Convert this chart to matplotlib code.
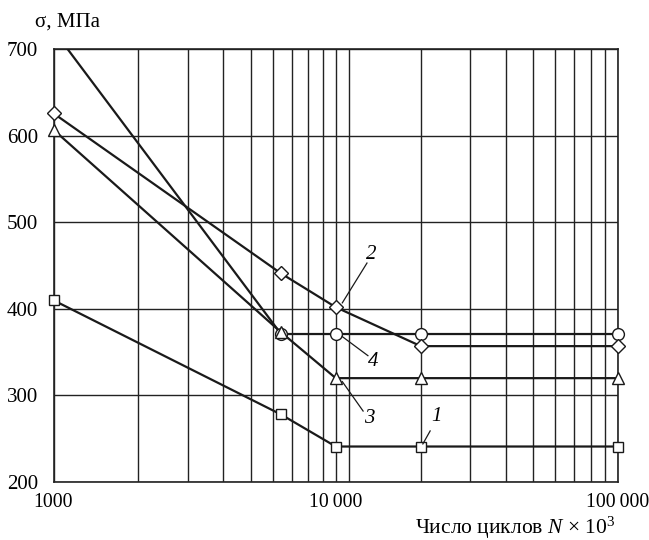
import matplotlib
matplotlib.use("Agg")
import matplotlib.pyplot as plt
from matplotlib.ticker import FixedLocator, NullFormatter

plt.rcParams['font.family'] = ['Liberation Serif', 'DejaVu Serif']
plt.rcParams['mathtext.fontset'] = 'custom'
plt.rcParams['mathtext.rm'] = 'Liberation Serif'
plt.rcParams['mathtext.it'] = 'Liberation Serif:italic'

# ---- data ----
x1 = [1000, 6400, 10000, 20000, 100000]
s1 = [410, 278, 241, 241, 241]          # curve 1, squares
x2 = [1000, 6400, 10000, 20000, 100000]
s2 = [626, 441, 402, 357, 357]          # curve 2, diamonds
x3 = [1000, 6400, 10000, 20000, 100000]
s3 = [607, 373, 320, 320, 320]          # curve 3, triangles
x4 = [1000, 6400, 10000, 20000, 100000]
s4 = [722, 371, 371, 371, 371]          # curve 4, circles

x_major = [1000, 10000, 100000]
x_major_labels = ['1000', '10\u2009000', '100\u2009000']
x_grid = [2000, 3000, 4000, 5000, 6000, 7000, 8000, 9000, 10000, 11100,
          20000, 30000, 40000, 50000, 60000, 70000, 80000, 90000]
y_ticks = [200, 300, 400, 500, 600, 700]

curve_labels = ['1', '2', '3', '4']
label_text_pos = [(22800, 276), (13400, 463), (13100, 273), (13550, 339)]
label_leader_start = [(21600, 259), (12900, 453), (12500, 282), (13000, 346)]
label_leader_end = [(20350, 244), (10550, 407), (10550, 316), (10550, 368)]

fig = plt.figure(figsize=(6.49, 5.40), dpi=100)
ax = fig.add_axes([53.5 / 649, (540 - 482) / 540, (618 - 53.5) / 649, (482 - 49.3) / 540])
ax.set_xscale('log')
ax.set_xlim(1000, 100000)
ax.set_ylim(200, 700)

ax.xaxis.set_major_locator(FixedLocator(x_major))
ax.set_xticklabels(x_major_labels)
ax.xaxis.set_minor_locator(FixedLocator(x_grid))
ax.xaxis.set_minor_formatter(NullFormatter())
ax.set_yticks(y_ticks)
ax.tick_params(axis='both', which='both', length=0, labelsize=15)
ax.tick_params(axis='x', pad=8, labelsize=14.2)
ax.tick_params(axis='y', pad=11)
ax.grid(True, which='both', axis='x', color='#222222', lw=1.0)
ax.grid(True, which='major', axis='y', color='#222222', lw=1.0)
for sp in ax.spines.values():
    sp.set_color('#222222')
    sp.set_linewidth(1.2)

series = [(x4, s4, 'o', 8.5), (x3, s3, '^', 9), (x2, s2, 'D', 7), (x1, s1, 's', 7.5)]
ymin, ymax = ax.get_ylim()
for xs, ys, m, ms in series:
    ax.plot(xs, ys, color='#1a1a1a', lw=1.6, clip_on=True, zorder=3)
    vis = [(a, b) for a, b in zip(xs, ys) if ymin <= b <= ymax]
    ax.plot([a for a, b in vis], [b for a, b in vis], ls='none', marker=m, ms=ms,
            mfc='white', mec='#1a1a1a', mew=1.0, clip_on=False, zorder=4)

for lab, tp, ls, le in zip(curve_labels, label_text_pos, label_leader_start, label_leader_end):
    ax.text(tp[0], tp[1], lab, fontsize=15, style='italic', ha='center', va='center', zorder=5)
    ax.plot([ls[0], le[0]], [ls[1], le[1]], color='#1a1a1a', lw=0.9, zorder=4)

fig.text(35 / 649, 1 - 22 / 540, 'σ, МПа', fontsize=15, ha='left', va='center')
fig.text(615 / 649, 1 - 528 / 540, r'Число циклов $N$ × 10$^3$', fontsize=15.5, ha='right', va='center')

fig.savefig('out.png', dpi=100)
